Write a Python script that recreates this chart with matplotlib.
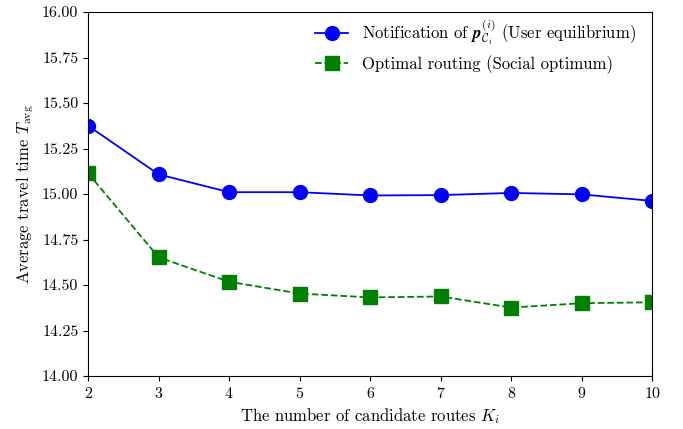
import matplotlib
matplotlib.use("Agg")
import matplotlib.pyplot as plt

K = [2, 3, 4, 5, 6, 7, 8, 9, 10]
ue = [15.375, 15.108, 15.010, 15.010, 14.992, 14.994, 15.006, 14.998, 14.962]
so = [15.114, 14.652, 14.518, 14.453, 14.432, 14.437, 14.376, 14.400, 14.405]
yticks = [14.00, 14.25, 14.50, 14.75, 15.00, 15.25, 15.50, 15.75, 16.00]

plt.rcParams['font.family'] = 'serif'
plt.rcParams['font.serif'] = ['cmr10']
plt.rcParams['mathtext.fontset'] = 'cm'
plt.rcParams['axes.formatter.use_mathtext'] = True
plt.rcParams['font.size'] = 12

fig = plt.figure(figsize=(6.83, 4.29), dpi=100)
ax = fig.add_axes([0.129, 0.1235, 0.826, 0.8485])

ax.plot(K, ue, color='blue', marker='o', markersize=10, linewidth=1.3,
        label=r'Notification of $\mathbfit{p}_{\mathcal{C}_i}^{(i)}$ (User equilibrium)')
ax.plot(K, so, color='green', marker='s', markersize=9.5, linewidth=1.3, linestyle='--',
        label='Optimal routing (Social optimum)')

ax.set_xlim(2, 10)
ax.set_ylim(14, 16)
ax.set_xticks(K)
ax.set_yticks(yticks)
ax.set_yticklabels([f'{v:.2f}' for v in yticks])
ax.tick_params(labelsize=11.5)
ax.set_xlabel(r'The number of candidate routes $K_i$', fontsize=12)
ax.set_ylabel(r'Average travel time $T_{\rm avg}$', fontsize=12)
ax.legend(loc='upper right', frameon=False, fontsize=12, borderaxespad=0.3,
          bbox_to_anchor=(0.991, 1.0165), labelspacing=0.45)

fig.savefig('out.png', dpi=100)
